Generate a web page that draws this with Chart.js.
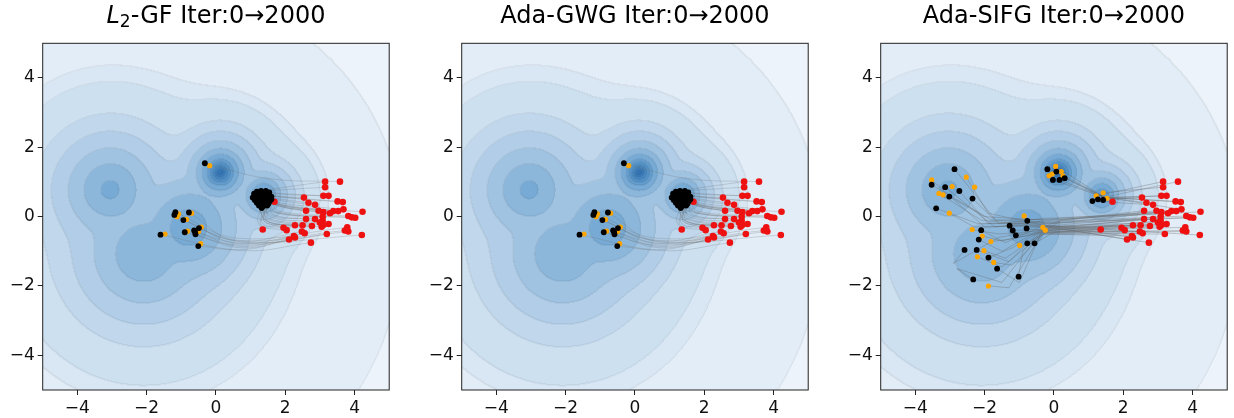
<!DOCTYPE html>
<html>
<head>
<meta charset="utf-8">
<title>Particle flows on a 5-mode target</title>
<script src="https://cdn.jsdelivr.net/npm/chart.js@4.4.1/dist/chart.umd.min.js"></script>
<style>
  html, body { margin: 0; padding: 0; background: #fff; }
  #wrap { position: relative; width: 1234px; height: 418px; overflow: hidden; }
  .panel { position: absolute; top: 0; width: 411px; height: 418px; }
</style>
</head>
<body>
<div id="wrap">
  <div class="panel" style="left:0px"><canvas id="gf" width="411" height="418"></canvas></div>
  <div class="panel" style="left:419px"><canvas id="gwg" width="411" height="418"></canvas></div>
  <div class="panel" style="left:838px"><canvas id="sifg" width="411" height="418"></canvas></div>
</div>
<script>
// ---- data -------------------------------------------------------------

const tickValues = [-4, -2, 0, 2, 4];

// target: heavy tailed mixture, one entry per mode
const compX = [-3.05, -2.08, -0.78, 0.13, 1.38];
const compY = [0.77, -1.08, -0.32, 1.27, 0.60];
const compScale = [0.8, 1.1, 1.1, 0.12, 0.25];
const compPeak = [0.30, 0.0, 0.59, 4.65, 1.79];
const compTail = [1.5, 1.5, 2.2, 1.5, 1.5];

// points the filled contour boundaries pass through (outer -> inner)
const levelPointX = [2.8, 1.7, -2.08, -4.88, -4.17, -3.51, -2.88, -0.78, 0.13, 0.13, 0.13, 0.13, 0.13];
const levelPointY = [5.0, 3.07, -4.88, -1.08, -1.08, -1.08, -1.08, -0.84, 1.65, 1.56, 1.48, 1.41, 1.35];

// initial particles (iteration 0), shared by all three runs
const initX = [3.15, 3.58, 3.15, 3.10, 3.25, 2.54, 2.67, 2.86, 3.51, 3.66, 1.69, 2.60, 2.96, 3.10, 3.29, 3.39,
  3.53, 3.68, 4.23, 3.82, 3.92, 4.02, 3.08, 2.86, 2.60, 3.08, 3.00, 3.25, 2.77, 2.50, 2.28, 1.95, 2.04, 3.05,
  3.10, 1.35, 3.79, 3.72, 3.82, 2.48, 2.56, 3.20, 2.25, 2.28, 2.11, 2.74, 4.21];
const initY = [1.01, 1.01, 0.85, 0.60, 0.60, 0.55, 0.40, 0.34, 0.44, 0.42, 0.43, 0.17, 0.17, 0.13, 0.10, 0.16,
  0.16, 0.21, 0.14, 0.02, -0.02, -0.03, 0.00, -0.07, -0.07, -0.12, -0.17, -0.21, -0.27, -0.25, -0.25, -0.32,
  -0.39, -0.29, -0.24, -0.37, -0.31, -0.40, -0.43, -0.43, -0.48, -0.50, -0.56, -0.60, -0.66, -0.75, -0.53];

// L2-GF / Ada-GWG: where each path bends and ends (both runs look the same)
const gfBendX = [2.0, 1.5, 2.0, 2.0, 2.0, 1.9, 1.9, 1.9, 2.0, 2.0, 1.55, 1.8, 1.85, 1.85, 1.9, 1.9,
  1.95, 1.95, 2.0, 1.8, 1.8, 1.8, 1.7, 1.65, 1.6, 1.6, 1.55, 1.55, 1.5, 1.45, 1.4, 1.35, 1.3, 1.5,
  1.55, 1.2, 0.6, 0.6, 0.65, 0.6, 0.65, 0.7, 0.7, 0.75, 0.8, 0.8, 0.7];
const gfBendY = [0.85, 1.1, 0.78, 0.66, 0.64, 0.58, 0.50, 0.46, 0.56, 0.55, 0.47, 0.32, 0.34, 0.30, 0.28, 0.33,
  0.34, 0.38, 0.30, 0.16, 0.12, 0.10, 0.12, 0.06, 0.04, -0.02, -0.06, -0.10, -0.14, -0.12, -0.14, -0.20,
  -0.24, -0.20, -0.16, -0.10, -0.62, -0.68, -0.72, -0.70, -0.78, -0.82, -0.86, -0.90, -0.95, -0.98, -0.76];
const gfEndX = [1.30, -0.32, 1.44, 1.18, 1.54, 1.34, 1.10, 1.20, 1.38, 1.50, 1.26, 1.46, 1.60, 1.14, 1.30, 1.42,
  1.06, 1.22, 1.34, 1.60, 1.24, 1.46, 1.12, 1.56, 1.28, 1.38, 1.48, 1.30, 1.18, 1.40, 1.52, 1.36, 1.48, 1.24,
  1.36, 1.32, -1.17, -1.20, -0.78, -0.94, -0.49, -0.90, -0.63, -0.59, -0.51, -1.60, -0.60];
const gfEndY = [0.74, 1.54, 0.74, 0.72, 0.70, 0.68, 0.66, 0.64, 0.62, 0.62, 0.60, 0.58, 0.58, 0.58, 0.56, 0.56,
  0.55, 0.54, 0.52, 0.50, 0.50, 0.48, 0.48, 0.46, 0.46, 0.44, 0.42, 0.40, 0.40, 0.38, 0.38, 0.36, 0.32, 0.32,
  0.30, 0.25, 0.13, 0.05, 0.12, -0.10, -0.33, -0.45, -0.40, -0.51, -0.85, -0.52, -0.45];
const gfOrangeX = [-1.47, -0.18, -1.08, -1.12, -0.85, -0.42, -0.82, -0.50, -0.44, -0.70,
  1.45, 1.32, 1.20, 1.50, 1.38, 1.24, 1.30, 1.42];
const gfOrangeY = [-0.50, 1.47, 0.08, 0.00, -0.08, -0.30, -0.42, -0.43, -0.78, 0.10,
  0.60, 0.45, 0.62, 0.48, 0.36, 0.54, 0.66, 0.52];

// Ada-SIFG: waypoints after the start point, last one is where the path ends
const sifgPaths = [
  [[1.22, 0.60]], [[1.45, 0.56], [-0.19, 1.37]], [[1.42, 0.69]], [[1.53, 0.53]],
  [[1.45, 0.56], [0.07, 1.30]], [[1.27, 0.50]], [[1.45, 0.56], [-0.03, 1.06]], [[1.11, 0.45]],
  [[1.45, 0.56], [0.16, 1.06]], [[1.45, 0.56], [0.31, 1.11]], [[1.42, 0.48]],
  [[0.2, -0.10], [-0.32, -0.31]], [[0.2, -0.12], [-0.25, -0.39]], [[0.0, -0.20], [-0.77, -0.12]],
  [[-0.3, -0.05], [-1.6, -0.2], [-2.87, 1.37]], [[-0.3, -0.08], [-1.8, -0.1], [-3.53, 0.92]],
  [[-0.3, -0.12], [-1.7, -0.3], [-3.14, 0.85]], [[1.45, 0.56], [0.05, 1.45]],
  [[-0.3, -0.10], [-2.0, 0.0], [-3.02, 0.58]], [[-0.3, -0.15], [-1.9, -0.2], [-2.73, 0.74]],
  [[-0.3, -0.18], [-1.7, -0.1], [-2.35, 0.52]], [[-0.3, -0.20], [-2.2, -0.2], [-3.4, 0.24]],
  [[0.0, -0.25], [-0.79, -0.34]], [[0.0, -0.30], [-1.28, -0.26]], [[-0.1, -0.35], [-1.19, -0.40]],
  [[-0.1, -0.40], [-1.10, -0.54]],
  [[-0.35, -0.28], [-1.4, -0.75], [-2.1, -0.39]], [[-0.3, -0.32], [-1.5, -1.0], [-2.17, -0.66]],
  [[-0.3, -0.36], [-1.6, -0.6], [-2.9, -1.35], [-2.58, -0.96]], [[-0.3, -0.30], [-1.3, -1.3], [-2.23, -0.96]],
  [[-0.35, -0.40], [-1.2, -0.9], [-1.89, -1.18]], [[-0.2, -0.45], [-0.77, -0.77]],
  [[-0.35, -0.42], [-1.0, -1.9], [-1.64, -1.5]], [[-0.3, -0.38], [-1.5, -1.9], [-2.8, -1.5], [-2.33, -1.81]],
  [[-0.3, -0.34], [-0.9, -1.0], [-1.02, -1.73]], [[0.0, -0.45], [-0.56, -0.77]],
  [[-0.3, -0.40], [-1.6, -0.5], [-2.36, -0.37]], [[-0.35, -0.45], [-1.5, -0.7], [-2.07, -0.56]],
  [[-0.3, -0.46], [-1.3, -0.65], [-1.82, -0.72]], [[-0.3, -0.44], [-1.4, -1.2], [-2.02, -0.98]],
  [[-0.3, -0.48], [-1.5, -1.45], [-2.21, -1.16]], [[-0.3, -0.50], [-1.2, -1.4], [-1.74, -1.32]],
  [[-0.35, -0.50], [-1.3, -2.05], [-1.89, -2.0]],
  [[-0.3, -0.22], [-2.0, -0.3], [-3.53, 1.06]], [[-0.3, -0.25], [-1.9, 0.1], [-2.53, 1.14]],
  [[-0.3, -0.28], [-2.1, -0.1], [-3.32, 0.67]], [[-0.3, -0.26], [-2.3, -0.3], [-3.02, 0.1]]
];
const sifgBlackX = [-2.87, -3.53, -3.14, -3.02, -2.73, -2.35, -3.40, -2.10, -2.17, -2.58, -2.23, -1.89, -1.64, -2.33,
  -1.02, -1.28, -1.19, -1.10, -0.77, -0.79, -0.77, -0.56, -0.19, 0.07, -0.03, 0.16, 0.31, 1.11, 1.27, 1.42];
const sifgBlackY = [1.37, 0.92, 0.85, 0.58, 0.74, 0.52, 0.24, -0.39, -0.66, -0.96, -0.96, -1.18, -1.50, -1.81,
  -1.73, -0.26, -0.40, -0.54, -0.12, -0.34, -0.77, -0.77, 1.37, 1.30, 1.06, 1.06, 1.11, 0.45, 0.50, 0.48];
const sifgOrangeX = [-3.53, -2.53, -2.29, -2.94, -3.32, -3.20, -3.02, -2.36, -2.07, -1.82, -2.02, -2.21, -1.74,
  -1.89, -0.99, -0.86, -0.32, -0.25, 0.05, -0.14, -0.05, 0.21, 0.26, 1.22, 1.42, 1.53];
const sifgOrangeY = [1.06, 1.14, 0.85, 0.87, 0.67, 0.63, 0.10, -0.37, -0.56, -0.72, -0.98, -1.16, -1.32,
  -2.00, -0.83, 0.02, -0.31, -0.39, 1.45, 1.18, 1.23, 1.30, 1.18, 0.60, 0.69, 0.53];

// ---- styling ----------------------------------------------------------

const FONT = '"DejaVu Sans", "Liberation Sans", sans-serif';
const SOFT = 0.35;  // how strongly neighbouring modes blend
const levelColors = ['#edf3fa', '#e3edf7', '#d9e7f4', '#cde0f0', '#c0d7ec', '#b1cde7', '#a0c3e1',
  '#8cb7db', '#77aad4', '#649dcd', '#5592c7', '#4888c1', '#3e7eba', '#3474b3'];

function logDensity(x, y) {
  let s = 0;
  for (let i = 0; i < compX.length; i++) {
    const dx = x - compX[i], dy = y - compY[i];
    const q = (dx * dx + dy * dy) / (compScale[i] * compScale[i]);
    s += Math.exp((compPeak[i] - compTail[i] * Math.log1p(q)) / SOFT);
  }
  return SOFT * Math.log(s);
}

const levels = levelPointX.map((px, i) => logDensity(px, levelPointY[i])).sort((a, b) => a - b);

function hexRgb(h) {
  return [parseInt(h.slice(1, 3), 16), parseInt(h.slice(3, 5), 16), parseInt(h.slice(5, 7), 16)];
}
const levelRgb = levelColors.map(hexRgb);

const contourPlugin = {
  id: 'contourBg',
  beforeDatasetsDraw(chart) {
    const { ctx, chartArea, scales } = chart;
    const w = Math.round(chartArea.right - chartArea.left);
    const h = Math.round(chartArea.bottom - chartArea.top);
    const off = document.createElement('canvas');
    off.width = w; off.height = h;
    const octx = off.getContext('2d');
    const img = octx.createImageData(w, h);
    const lev = new Uint8Array(w * h);
    for (let j = 0; j < h; j++) {
      const vy = scales.y.getValueForPixel(chartArea.top + j + 0.5);
      for (let i = 0; i < w; i++) {
        const vx = scales.x.getValueForPixel(chartArea.left + i + 0.5);
        const f = logDensity(vx, vy);
        let k = 0;
        while (k < levels.length && f > levels[k]) k++;
        lev[j * w + i] = k;
      }
    }
    for (let j = 0; j < h; j++) {
      for (let i = 0; i < w; i++) {
        const n = j * w + i;
        const c = levelRgb[Math.min(lev[n], levelRgb.length - 1)];
        const edge = (i + 1 < w && lev[n + 1] !== lev[n]) || (j + 1 < h && lev[n + w] !== lev[n]);
        const m = edge ? 0.93 : 1;
        img.data[n * 4] = c[0] * m;
        img.data[n * 4 + 1] = c[1] * m;
        img.data[n * 4 + 2] = c[2] * m;
        img.data[n * 4 + 3] = 255;
      }
    }
    octx.putImageData(img, 0, 0);
    ctx.drawImage(off, chartArea.left, chartArea.top);
  }
};

const framePlugin = {
  id: 'frame',
  afterDatasetsDraw(chart) {
    const { ctx, chartArea: a } = chart;
    ctx.save();
    ctx.strokeStyle = '#222';
    ctx.lineWidth = 1;
    ctx.strokeRect(a.left, a.top, a.right - a.left, a.bottom - a.top);
    ctx.restore();
  }
};

function titlePlugin(parts) {
  return {
    id: 'richTitle',
    afterDraw(chart) {
      const { ctx, chartArea } = chart;
      ctx.save();
      ctx.fillStyle = '#000';
      ctx.textBaseline = 'alphabetic';
      const fonts = parts.map(p => (p.italic ? 'italic ' : '') + (p.sub ? 17 : 24) + 'px ' + FONT);
      let total = 0;
      parts.forEach((p, i) => { ctx.font = fonts[i]; total += ctx.measureText(p.text).width; });
      let x = (chartArea.left + chartArea.right) / 2 - total / 2;
      parts.forEach((p, i) => {
        ctx.font = fonts[i];
        ctx.fillText(p.text, x, 23 + (p.sub ? 4 : 0));
        x += ctx.measureText(p.text).width;
      });
      ctx.restore();
    }
  };
}

function xy(xs, ys) {
  return xs.map((x, i) => ({ x: x, y: ys[i] }));
}

function axis(extra) {
  return Object.assign({
    type: 'linear',
    min: -5,
    max: 5,
    afterBuildTicks: s => { s.ticks = tickValues.map(v => ({ value: v })); },
    grid: { drawOnChartArea: false, drawTicks: true, tickLength: 5, color: '#222' },
    border: { display: false },
    ticks: {
      color: '#111',
      padding: 3,
      font: { family: FONT, size: 17 },
      callback: v => String(v).replace('-', '\u2212')
    }
  }, extra);
}

function makePanel(id, titleParts, paths, tension, blackPts, orangePts) {
  const lineColor = tension > 0 ? 'rgba(115,115,115,0.32)' : 'rgba(100,100,100,0.42)';
  const datasets = [
    { data: blackPts, backgroundColor: '#000', pointRadius: 2.9, borderWidth: 0 },
    { data: orangePts, backgroundColor: '#ffa500', pointRadius: 2.6, borderWidth: 0 },
    { data: xy(initX, initY), backgroundColor: '#ee1111', pointRadius: 3.3, borderWidth: 0 }
  ];
  paths.forEach(p => {
    datasets.push({
      data: p, showLine: true, pointRadius: 0, borderColor: lineColor,
      borderWidth: 0.8, tension: tension, fill: false
    });
  });
  new Chart(document.getElementById(id), {
    type: 'scatter',
    data: { datasets: datasets },
    options: {
      responsive: false,
      animation: false,
      devicePixelRatio: 1,
      layout: { padding: { top: 43.3, right: 21.8, bottom: 0, left: 0 } },
      plugins: { legend: { display: false }, tooltip: { enabled: false }, title: { display: false } },
      scales: {
        x: axis({ afterFit: s => { s.height = 28; } }),
        y: axis({ afterFit: s => { s.width = 42.7; } })
      }
    },
    plugins: [contourPlugin, framePlugin, titlePlugin(titleParts)]
  });
}

const gfPaths = initX.map((x, i) => [
  { x: x, y: initY[i] },
  { x: gfBendX[i], y: gfBendY[i] },
  { x: gfEndX[i], y: gfEndY[i] }
]);
const sifgLinePaths = sifgPaths.map((pts, i) =>
  [{ x: initX[i], y: initY[i] }].concat(pts.map(p => ({ x: p[0], y: p[1] }))));

makePanel('gf', [{ text: 'L', italic: true }, { text: '2', sub: true }, { text: '-GF Iter:0\u21922000' }],
  gfPaths, 0.4, xy(gfEndX, gfEndY), xy(gfOrangeX, gfOrangeY));
makePanel('gwg', [{ text: 'Ada-GWG Iter:0\u21922000' }],
  gfPaths, 0.4, xy(gfEndX, gfEndY), xy(gfOrangeX, gfOrangeY));
makePanel('sifg', [{ text: 'Ada-SIFG Iter:0\u21922000' }],
  sifgLinePaths, 0, xy(sifgBlackX, sifgBlackY), xy(sifgOrangeX, sifgOrangeY));
</script>
</body>
</html>
